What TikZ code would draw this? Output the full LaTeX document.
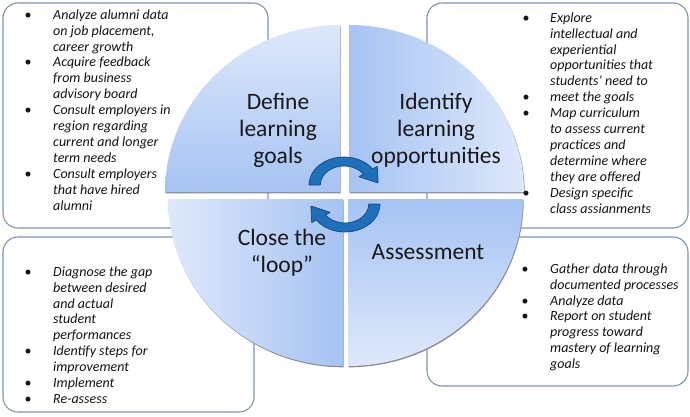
\documentclass[tikz,border=0pt]{standalone}
\usepackage{fontspec}
\setmainfont{Carlito}
\usepackage{array}
\definecolor{boxline}{RGB}{128,146,178}
\definecolor{qlight}{RGB}{222,232,251}
\definecolor{qdark}{RGB}{166,195,243}
\definecolor{arrfill}{RGB}{30,112,186}
\definecolor{arrline}{RGB}{22,72,128}
\definecolor{shadowc}{RGB}{140,140,145}
\newcommand{\bulletmark}{\upshape\textbullet}
\tikzset{
  infobox/.style={draw=boxline, line width=1.1pt, rounded corners=15pt, fill=white},
  quadshadow/.style={fill=shadowc},
  cyclearrow/.style={fill=arrfill, draw=arrline, line width=0.7pt, line join=round},
  title/.style={font=\fontsize{23.5}{27}\selectfont, align=center, text=black!90, inner sep=0pt},
  bullets/.style={font=\fontsize{14}{15.9}\selectfont\itshape, anchor=north west, inner sep=0pt, text=black!92},
}
\begin{document}
\begin{tikzpicture}[x=1pt,y=1pt]
\useasboundingbox (0,0) rectangle (690,416);
\fill[white] (0,0) rectangle (690,416);

% boxes
\draw[infobox] (3,188) rectangle (268,413);
\draw[infobox] (427,188) rectangle (688,413);
\draw[infobox] (3,4) rectangle (254,179);
\draw[infobox] (427,30) rectangle (688,179);

% quadrant shadows
\fill[quadshadow, shift={(0.7,-1.3)}] (340,224) -- (165,224) arc[start angle=180, end angle=90, x radius=175, y radius=167] -- cycle;
\fill[quadshadow, shift={(0.7,-1.3)}] (349,224) -- (349,391) arc[start angle=90, end angle=0, x radius=175, y radius=167] -- cycle;
\fill[quadshadow, shift={(0.7,-1.3)}] (343,217) -- (168,217) arc[start angle=180, end angle=270, x radius=175, y radius=167] -- cycle;
\fill[quadshadow, shift={(0.7,-1.3)}] (348,217) -- (523,217) arc[start angle=0, end angle=-90, x radius=175, y radius=167] -- cycle;

% quadrants
\shade[top color=qlight, bottom color=qdark] (340,224) -- (165,224) arc[start angle=180, end angle=90, x radius=175, y radius=167] -- cycle;
\shade[left color=qdark, right color=qlight] (349,224) -- (349,391) arc[start angle=90, end angle=0, x radius=175, y radius=167] -- cycle;
\shade[left color=qlight, right color=qdark] (343,217) -- (168,217) arc[start angle=180, end angle=270, x radius=175, y radius=167] -- cycle;
\shade[top color=qdark, bottom color=qlight] (348,217) -- (523,217) arc[start angle=0, end angle=-90, x radius=175, y radius=167] -- cycle;

% cycle arrows
\begin{scope}[shift={(344,231)}, xscale=1.25]
\draw[cyclearrow] (180:28) arc[start angle=180, end angle=35, radius=28] -- (35:32.5) -- (27.3,2.0) -- (35:14.5) -- (35:19) arc[start angle=35, end angle=180, radius=19] -- cycle;
\end{scope}
\begin{scope}[shift={(345,212)}, xscale=1.25]
\draw[cyclearrow] (0:28) arc[start angle=0, end angle=-145, radius=28] -- (-145:32.5) -- (-27.3,-2.0) -- (-145:14.5) -- (-145:19) arc[start angle=-145, end angle=0, radius=19] -- cycle;
\end{scope}

% titles
\node[title] (define) at (278,286) {Define\\learning\\goals};
\node[title] (identify) at (436,286) {Identify\\learning\\opportunities};
\node[title] (close) at (282,163) {Close the\\“loop”};
\node[title] (assess) at (428,164) {Assessment};

% bullet lists
\node[bullets] (listTL) at (24.5,408.1) {\begin{tabular}{@{}p{28.5pt}@{}l@{}}
\bulletmark & Analyze alumni data\\
 & on job placement,\\
 & career growth\\
\bulletmark & Acquire feedback\\
 & from business\\
 & advisory board\\
\bulletmark & Consult employers in\\
 & region regarding\\
 & current and longer\\
 & term needs\\
\bulletmark & Consult employers\\
 & that have hired\\
 & alumni
\end{tabular}};

\node[bullets] (listTR) at (522.5,405.1) {\begin{tabular}{@{}p{27.5pt}@{}l@{}}
\bulletmark & Explore\\
 & intellectual and\\
 & experiential\\
 & opportunities that\\
 & students’ need to\\
\bulletmark & meet the goals\\
\bulletmark & Map curriculum\\
 & to assess current\\
 & practices and\\
 & determine where\\
 & they are offered\\
\bulletmark & Design specific\\
 & class assianments
\end{tabular}};

\node[bullets] (listBL) at (24.5,151.1) {\begin{tabular}{@{}p{28.5pt}@{}l@{}}
\bulletmark & Diagnose the gap\\
 & between desired\\
 & and actual\\
 & student\\
 & performances\\
\bulletmark & Identify steps for\\
 & improvement\\
\bulletmark & Implement\\
\bulletmark & Re-assess
\end{tabular}};

\node[bullets] (listBR) at (521.5,154.1) {\begin{tabular}{@{}p{28.5pt}@{}l@{}}
\bulletmark & Gather data through\\
 & documented processes\\
\bulletmark & Analyze data\\
\bulletmark & Report on student\\
 & progress toward\\
 & mastery of learning\\
 & goals
\end{tabular}};
\end{tikzpicture}
\end{document}
